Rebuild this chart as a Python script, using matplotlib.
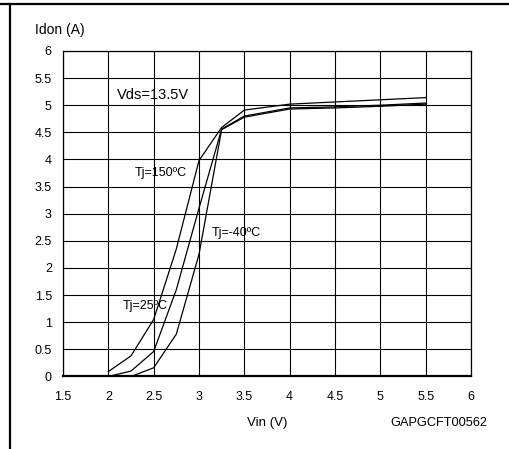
import matplotlib
matplotlib.use("Agg")
import matplotlib.pyplot as plt
from matplotlib.lines import Line2D

plt.rcParams['font.family'] = ['Liberation Sans', 'DejaVu Sans']

# Idon vs Vin at Vds = 13.5 V for three junction temperatures
vin = [2.0, 2.25, 2.5, 2.75, 3.0, 3.25, 3.5, 4.0, 4.5, 5.0, 5.5]
idon_150 = [0.09, 0.38, 1.05, 2.35, 3.98, 4.59, 4.91, 5.02, 5.06, 5.10, 5.14]
idon_25 = [0.0, 0.10, 0.46, 1.60, 3.10, 4.56, 4.80, 4.95, 4.97, 5.00, 5.04]
idon_m40 = [0.0, 0.0, 0.16, 0.78, 2.25, 4.55, 4.78, 4.93, 4.95, 4.98, 5.02]

x_ticks = [1.5, 2, 2.5, 3, 3.5, 4, 4.5, 5, 5.5, 6]
y_ticks = [0, 0.5, 1, 1.5, 2, 2.5, 3, 3.5, 4, 4.5, 5, 5.5, 6]

fig = plt.figure(figsize=(5.10, 4.49), dpi=100)
ax = fig.add_axes([0.1235, 0.1615, 0.8, 0.725])

for curve in (idon_150, idon_25, idon_m40):
    ax.plot(vin, curve, color="black", linewidth=0.9)

ax.set_xlim(1.5, 6)
ax.set_ylim(0, 6)
ax.set_xticks(x_ticks)
ax.set_xticklabels([f"{t:g}" for t in x_ticks])
ax.set_yticks(y_ticks)
ax.set_yticklabels([f"{t:g}" for t in y_ticks])
ax.grid(True, color="black", linewidth=0.8)
ax.tick_params(length=0, labelsize=9)
ax.tick_params(axis="y", pad=8)
ax.tick_params(axis="x", pad=10.5)
for side in ("left", "top", "right"):
    ax.spines[side].set_linewidth(0.9)
ax.spines["bottom"].set_linewidth(1.6)

ax.text(2.1, 5.18, "Vds=13.5V", fontsize=10.5, va="center")
ax.text(2.29, 3.75, "Tj=150ºC", fontsize=9, va="center")
ax.text(3.14, 2.65, "Tj=-40ºC", fontsize=9, va="center")
ax.text(2.16, 1.29, "Tj=25ºC", fontsize=9, va="center")

fig.text(35 / 510, 1 - 30 / 449, "Idon (A)", fontsize=10, va="center")
fig.text(267 / 510, 1 - 423 / 449, "Vin (V)", fontsize=9.5, va="center", ha="center")
fig.text(390 / 510, 1 - 423 / 449, "GAPGCFT00562", fontsize=9.2, va="center")

# page frame lines at top and left
fig.add_artist(Line2D([0, 1], [1 - 3.5 / 449, 1 - 3.5 / 449], color="black", linewidth=1.6))
fig.add_artist(Line2D([10 / 510, 10 / 510], [0, 1 - 3.5 / 449], color="black", linewidth=1.6))

fig.savefig("out.png", dpi=100)
